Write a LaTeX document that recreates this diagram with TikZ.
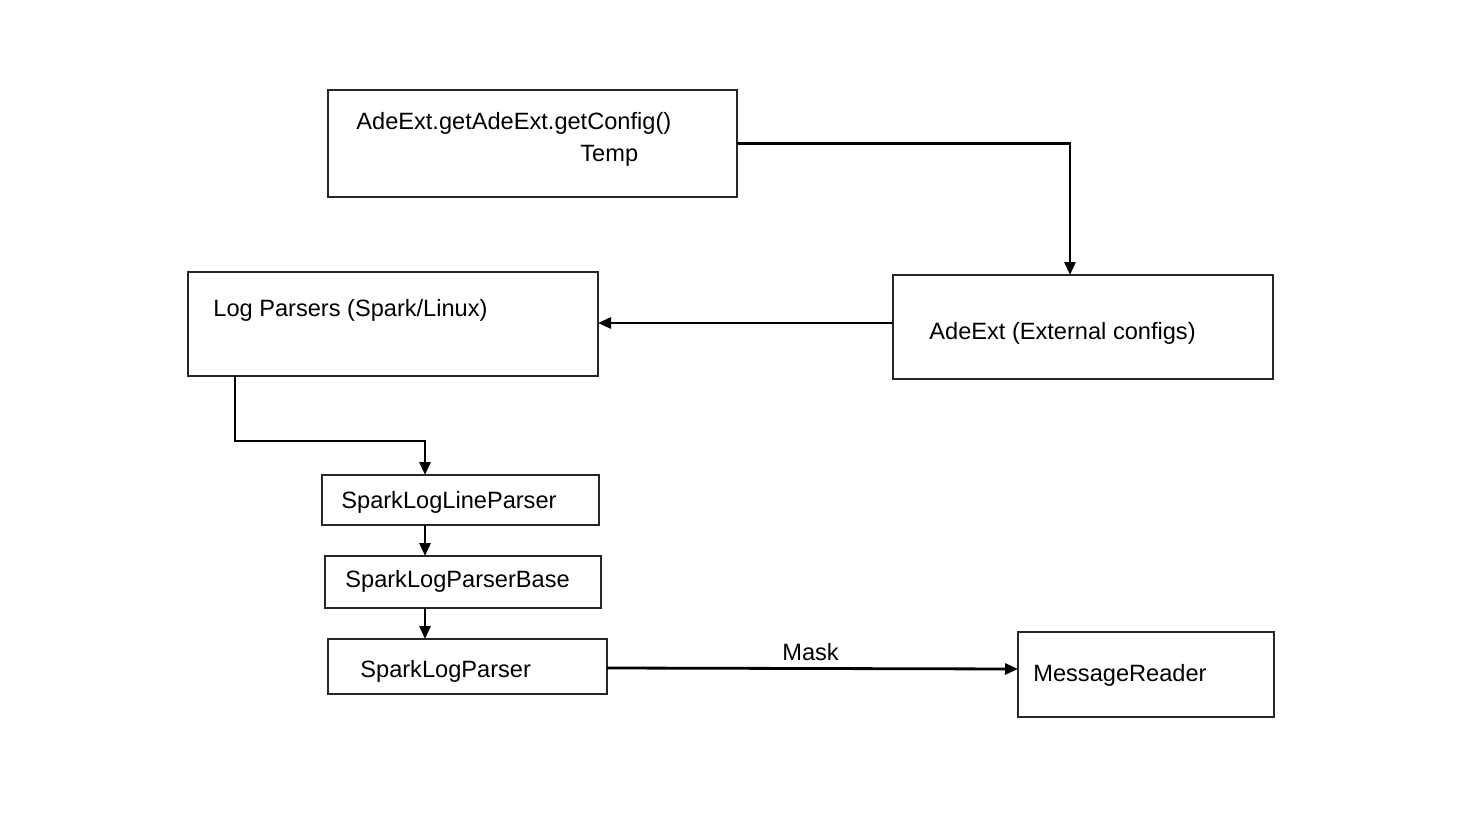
\documentclass[tikz,border=0pt]{standalone}
\usepackage{fontspec}
\setmainfont{Liberation Sans}
\usetikzlibrary{arrows.meta,calc}
\begin{document}
\begin{tikzpicture}[x=0.5pt,y=-0.5pt,
  box/.style={draw=black!85,line width=0.65pt,inner sep=0pt,outer sep=0pt},
  txt/.style={anchor=base west,inner sep=0pt,font=\fontsize{11.8pt}{14pt}\selectfont},
  arr/.style={line width=1.4pt,-{Triangle[length=6.5pt,width=5.5pt]}}]
\useasboundingbox (0,0) rectangle (1474,813);
\fill[white] (0,0) rectangle (1474,813);
% boxes
\node[box,minimum width=204.5pt,minimum height=53.5pt] (top) at (532.5,143.5) {};
\node[box,minimum width=205pt,minimum height=52pt] (logp) at (393,324) {};
\node[box,minimum width=190pt,minimum height=52pt] (ade) at (1083,327) {};
\node[box,minimum width=138.5pt,minimum height=25pt] (sllp) at (460.5,500) {};
\node[box,minimum width=138pt,minimum height=26pt] (slpb) at (463,582) {};
\node[box,minimum width=139.5pt,minimum height=27.5pt] (slp) at (467.5,666.5) {};
\node[box,minimum width=128pt,minimum height=42.5pt] (mr) at (1146,674.5) {};
% texts
\node[txt] (t1) at (356,130) {AdeExt.getAdeExt.getConfig()};
\node[txt] (t2) at (580,162) {Temp};
\node[txt] (t3) at (213,316) {Log Parsers (Spark/Linux)};
\node[txt] (t4) at (929,339) {AdeExt (External configs)};
\node[txt] (t5) at (341,508) {SparkLogLineParser};
\node[txt] (t6) at (345,587) {SparkLogParserBase};
\node[txt] (t7) at (360,677) {SparkLogParser};
\node[txt] (t8) at (1033,681) {MessageReader};
\node[txt] (t9) at (782,660) {Mask};
% connectors
\coordinate (cx) at (425,0);
\draw[arr] (top.east) -| ($(ade.north)+(-13,0)$);
\draw[arr] ($(ade.west)+(0,-4)$) -- ($(logp.east)+(0,-1)$);
\draw[arr] ($(logp.south west)+(47,0)$) -- ++(0,65) -| (sllp.north -| cx);
\draw[arr] (sllp.south -| cx) -- (slpb.north -| cx);
\draw[arr] (slpb.south -| cx) -- (slp.north -| cx);
\draw[arr] ($(slp.east)+(0,1.5)$) -- ($(mr.west)+(0,-5.5)$);
\end{tikzpicture}
\end{document}
